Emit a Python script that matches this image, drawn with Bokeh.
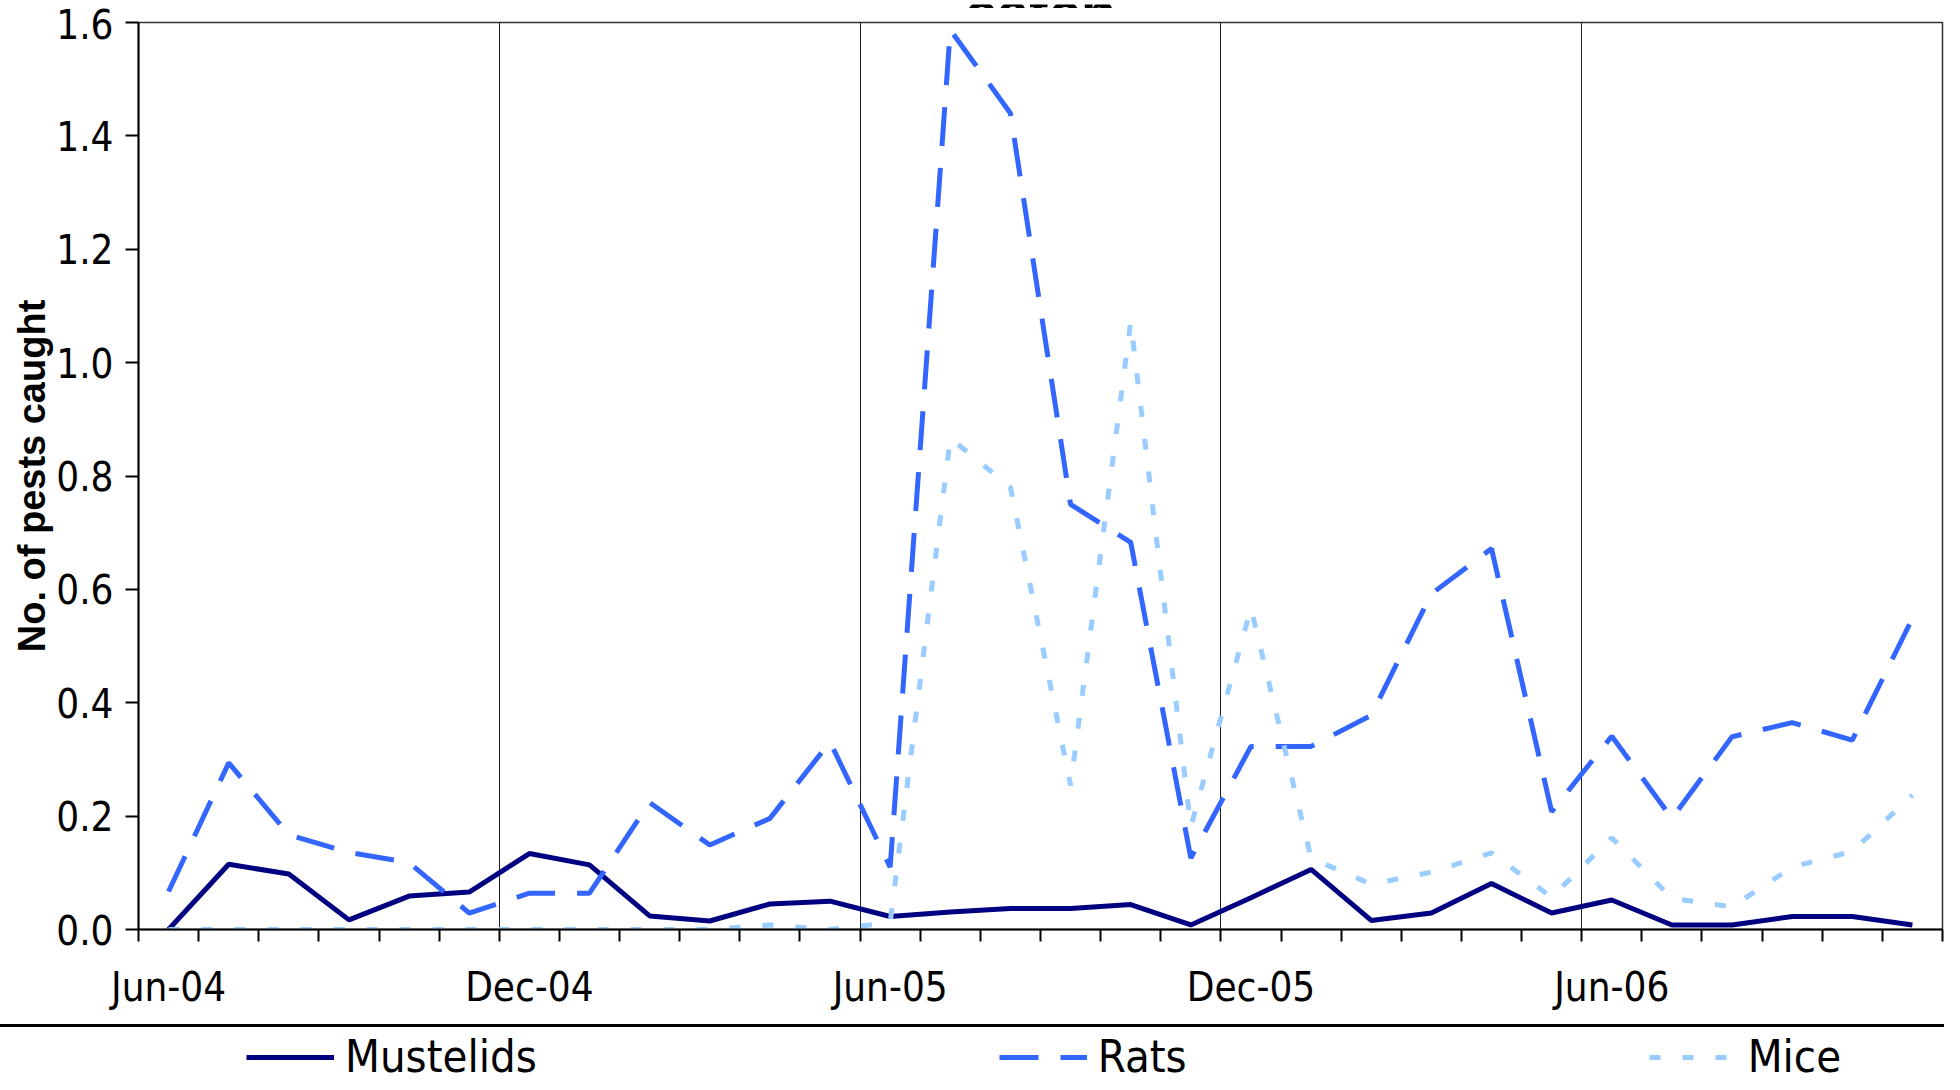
from bokeh.plotting import figure
from bokeh.models import (Range1d, FixedTicker, Legend, LegendItem, Label, Span,
                          PrintfTickFormatter, InlineStyleSheet)
from bokeh.layouts import column
from bokeh.embed import file_html
from bokeh.resources import INLINE

# ---------------- data ----------------
months = ["Jun-04", "Jul-04", "Aug-04", "Sep-04", "Oct-04", "Nov-04",
          "Dec-04", "Jan-05", "Feb-05", "Mar-05", "Apr-05", "May-05",
          "Jun-05", "Jul-05", "Aug-05", "Sep-05", "Oct-05", "Nov-05",
          "Dec-05", "Jan-06", "Feb-06", "Mar-06", "Apr-06", "May-06",
          "Jun-06", "Jul-06", "Aug-06", "Sep-06", "Oct-06", "Nov-06"]

mustelids = [0.000, 0.115, 0.098, 0.017, 0.059, 0.066, 0.134, 0.114, 0.024, 0.015,
             0.045, 0.050, 0.023, 0.031, 0.037, 0.037, 0.044, 0.008, 0.056, 0.106,
             0.016, 0.029, 0.081, 0.029, 0.052, 0.008, 0.008, 0.023, 0.023, 0.008]

rats = [0.067, 0.294, 0.167, 0.136, 0.118, 0.029, 0.064, 0.064, 0.224, 0.149,
        0.196, 0.331, 0.110, 1.587, 1.440, 0.750, 0.683, 0.126, 0.323, 0.323,
        0.378, 0.592, 0.672, 0.208, 0.341, 0.196, 0.340, 0.365, 0.334, 0.549]

mice = [0.000, 0.000, 0.000, 0.000, 0.000, 0.000, 0.000, 0.000, 0.000, 0.000,
        0.008, 0.000, 0.012, 0.867, 0.780, 0.254, 1.072, 0.181, 0.567, 0.126,
        0.080, 0.101, 0.135, 0.057, 0.162, 0.055, 0.040, 0.110, 0.138, 0.237]

x_tick_labels = ["Jun-04", "Dec-04", "Jun-05", "Dec-05", "Jun-06"]
y_ticks = [0.0, 0.2, 0.4, 0.6, 0.8, 1.0, 1.2, 1.4, 1.6]

series_names = ["Mustelids", "Rats", "Mice"]
title_text = "catch"
y_title = "No. of pests caught"

# ---------------- styling ----------------
NARROW = "'DejaVu Sans Condensed', 'DejaVu Sans', sans-serif"
REGULAR = "'Liberation Sans', Arial, sans-serif"
COLORS = ["#000080", "#3366FF", "#99CCFF"]
DASHES = ["solid", "39 22", "11 22"]
LW = 5
W = 1944
H_TOP, H_MAIN, H_LEG = 8, 1016, 50

n = len(months)
xs = [i + 0.5 for i in range(n)]                 # points centred in each month
label_pos = [months.index(t) + 0.5 for t in x_tick_labels]
month_edges = list(range(n + 1))
half_year_edges = [e for e in month_edges if e % 6 == 0 and 0 < e < n]

x_range = Range1d(0, n)

# ---------- strip with the (mostly cut off) title ----------
p0 = figure(width=W, height=H_TOP, x_range=x_range, y_range=Range1d(0, H_TOP),
            output_backend="svg", toolbar_location=None, min_border=0,
            x_axis_location=None, y_axis_location=None)
p0.grid.visible = False
p0.outline_line_color = None
p0.add_layout(Label(x=n / 2, y=1, text=title_text, text_font=REGULAR,
                    text_font_style="bold", text_font_size="58px",
                    text_align="center", text_baseline="alphabetic",
                    text_color="black"))

# ---------- main chart ----------
p = figure(width=W, height=H_MAIN,
           x_range=x_range, y_range=Range1d(y_ticks[0], y_ticks[-1]),
           output_backend="svg", toolbar_location=None,
           min_border_left=138, min_border_right=2, min_border_top=14,
           min_border_bottom=95)
p.background_fill_color = "white"
p.border_fill_color = "white"
p.outline_line_color = "#333333"
p.outline_line_width = 1.5

xa = p.xaxis[0]
xa.ticker = FixedTicker(ticks=label_pos, minor_ticks=month_edges)
xa.major_label_overrides = {pos: lab for pos, lab in zip(label_pos, x_tick_labels)}
xa.major_tick_out = 0
xa.major_tick_in = 0
xa.minor_tick_out = 12
xa.minor_tick_in = 0
xa.minor_tick_line_width = 2
xa.minor_tick_line_color = "black"
xa.axis_line_width = 2
xa.axis_line_color = "black"
xa.major_label_standoff = 22
xa.major_label_text_font = NARROW
xa.major_label_text_font_size = "40px"
xa.major_label_text_color = "black"

ya = p.yaxis[0]
ya.ticker = FixedTicker(ticks=y_ticks)
ya.formatter = PrintfTickFormatter(format="%.1f")
ya.major_tick_out = 13
ya.major_tick_in = 0
ya.major_tick_line_width = 2
ya.major_tick_line_color = "black"
ya.minor_tick_line_color = None
ya.axis_line_width = 2
ya.axis_line_color = "black"
ya.major_label_standoff = 12
ya.major_label_text_font = NARROW
ya.major_label_text_font_size = "40px"
ya.major_label_text_color = "black"
ya.axis_label = y_title
ya.axis_label_text_font = REGULAR
ya.axis_label_text_font_style = "bold"
ya.axis_label_text_font_size = "38px"
ya.axis_label_text_color = "black"
ya.axis_label_standoff = 0

p.ygrid.visible = False
p.xgrid.ticker = FixedTicker(ticks=half_year_edges)
p.xgrid.grid_line_color = "#222222"
p.xgrid.grid_line_width = 1

for vals, col, dash in zip([mustelids, rats, mice], COLORS, DASHES):
    p.line(xs, vals, line_color=col, line_width=LW, line_dash=dash)

# ---------- legend strip (separator line on top) ----------
sep_css = InlineStyleSheet(css=""":host::after {
  content: ""; position: absolute; left: 0; right: 0; top: 0; height: 2.5px;
  background: #000000; pointer-events: none; z-index: 5;
}""")
p2 = figure(width=W, height=H_LEG, x_range=x_range, y_range=Range1d(-60, -10),
            output_backend="svg", toolbar_location=None, min_border=0,
            x_axis_location=None, y_axis_location=None, stylesheets=[sep_css])
p2.grid.visible = False
p2.outline_line_color = None
p2.add_layout(Span(location=-11.25, dimension="width", line_color="black",
                   line_width=2.5))

items = []
for nm, vals, col, dash in zip(series_names, [mustelids, rats, mice], COLORS, DASHES):
    # same series, drawn outside this strip's visible range: only its legend sample shows
    r = p2.line(xs, vals, line_color=col, line_width=LW, line_dash=dash)
    items.append(LegendItem(label=nm, renderers=[r]))

leg = Legend(items=items, orientation="horizontal", location=(108, -9),
             glyph_width=88, glyph_height=20, label_height=20, label_standoff=11,
             spacing=462, padding=0, margin=0, border_line_color=None,
             background_fill_alpha=0,
             label_text_font=NARROW, label_text_font_size="45px",
             label_text_color="black")
p2.add_layout(leg)

layout = column(p0, p, p2, spacing=0)
open("out.html", "w").write(file_html(layout, INLINE))
